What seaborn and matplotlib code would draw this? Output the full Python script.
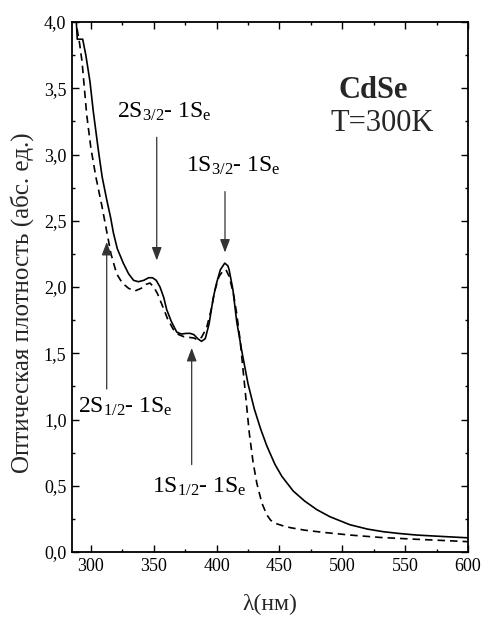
import matplotlib
matplotlib.use("Agg")
import matplotlib.pyplot as plt
from matplotlib.ticker import MultipleLocator, FuncFormatter
import seaborn as sns
import pandas as pd

# ---- data ----
wl_solid = [288.5, 289.2, 293.5, 296, 299.3, 302, 306, 309, 312.6, 315.8, 317.9, 321,
            325.8, 330, 334, 337.8, 342, 346, 349, 352, 355, 358, 360.3, 364, 368.3,
            372, 376, 379, 382, 385, 388, 391, 394, 397.4, 400, 403, 406.5, 409, 410,
            413, 416, 420, 425, 430, 435, 440, 446.5, 452, 461, 470, 479.7, 490, 506,
            520, 532.7, 545, 559, 580, 600]
abs_solid = [3.99, 3.87, 3.87, 3.75, 3.55, 3.32, 3.03, 2.83, 2.66, 2.52, 2.41, 2.29,
             2.18, 2.10, 2.05, 2.04, 2.05, 2.07, 2.07, 2.05, 2.00, 1.92, 1.83, 1.74, 1.66,
             1.645, 1.65, 1.65, 1.64, 1.61, 1.59, 1.61, 1.72, 1.92, 2.03, 2.13, 2.18, 2.16, 2.13,
             1.98, 1.74, 1.52, 1.27, 1.08, 0.93, 0.80, 0.66, 0.57, 0.46, 0.385, 0.32, 0.267, 0.206,
             0.173, 0.153, 0.14, 0.128, 0.117, 0.107]

wl_dash = [289, 291, 293, 296.7, 300, 304, 308.6, 312.6, 316, 320.5, 325, 330, 335, 340,
           344, 347, 350, 353, 357.7, 361, 365.6, 370, 374, 378, 382, 385, 388, 392,
           395.5, 398.8, 402, 405, 407.5, 410, 413.4, 416, 418.7, 422.7, 426, 429, 432,
           436, 440, 443, 446.5, 452, 458.5, 470, 485, 506, 530, 559, 580, 600]
abs_dash = [3.95, 3.84, 3.70, 3.30, 3.05, 2.83, 2.62, 2.42, 2.25, 2.10, 2.03, 1.99, 1.97, 1.99,
            2.02, 2.03, 2.00, 1.95, 1.84, 1.76, 1.68, 1.64, 1.625, 1.62, 1.615, 1.60, 1.62, 1.69,
            1.82, 1.98, 2.08, 2.12, 2.13, 2.08, 1.95, 1.80, 1.60, 1.22, 0.90, 0.68, 0.52,
            0.37, 0.28, 0.24, 0.217, 0.20, 0.184, 0.165, 0.148, 0.128, 0.11, 0.096, 0.087, 0.078]

# transitions: label, arrow x, arrow tail y, arrow head y, text x, text baseline y
trans_labels = [r"2S$_{3/2}$- 1S$_{\mathrm{e}}$", r"1S$_{3/2}$- 1S$_{\mathrm{e}}$",
                r"2S$_{1/2}$- 1S$_{\mathrm{e}}$", r"1S$_{1/2}$- 1S$_{\mathrm{e}}$"]
arrow_x = [352.4, 406.7, 312.6, 380.2]
arrow_tail = [3.13, 2.72, 1.23, 0.66]
arrow_head = [2.20, 2.26, 2.34, 1.54]
text_x = [320.8, 375.7, 289.8, 348.7]
text_y = [3.28, 2.87, 1.05, 0.445]

xticks = [300, 350, 400, 450, 500, 550, 600]
yticks = [0.0, 0.5, 1.0, 1.5, 2.0, 2.5, 3.0, 3.5, 4.0]

# ---- style ----
sns.set_style("ticks")
plt.rcParams['font.family'] = ['Liberation Serif', 'DejaVu Serif']
plt.rcParams['mathtext.fontset'] = 'custom'
plt.rcParams['mathtext.rm'] = 'Liberation Serif'
plt.rcParams['mathtext.it'] = 'Liberation Serif:italic'
plt.rcParams['mathtext.bf'] = 'Liberation Serif:bold'

fig = plt.figure(figsize=(4.84, 6.17), dpi=100)
ax = fig.add_axes([72/484, 1-552/617, (468-72)/484, (552-22)/617])

df_s = pd.DataFrame({"wl": wl_solid, "A": abs_solid})
df_d = pd.DataFrame({"wl": wl_dash, "A": abs_dash})
sns.lineplot(data=df_s, x="wl", y="A", ax=ax, color="black", lw=1.2, sort=False)
sns.lineplot(data=df_d, x="wl", y="A", ax=ax, color="black", lw=1.2, sort=False,
             linestyle=(0, (4.5, 3)))

ax.set_xlim(285, 600)
ax.set_ylim(0, 4.0)
ax.set_xticks(xticks)
ax.set_yticks(yticks)
ax.xaxis.set_minor_locator(MultipleLocator(25))
ax.yaxis.set_minor_locator(MultipleLocator(0.25))
ax.yaxis.set_major_formatter(FuncFormatter(lambda v, p: f"{v:.1f}".replace('.', ',')))
ax.tick_params(which='both', direction='in', top=True, right=True, width=1.0,
               labelsize=13, colors='black', pad=4)
ax.tick_params(which='major', length=5)
ax.tick_params(which='minor', length=2.5)
for s in ax.spines.values():
    s.set_linewidth(1.3)
    s.set_color('black')

ax.set_xlabel("λ(нм)", fontsize=17, labelpad=14)
ax.set_ylabel("Оптическая плотность (абс. ед.)", fontsize=18, labelpad=4)
ax.yaxis.set_label_coords(-0.095, 0.47)

for lab, ax_, t, h, tx, ty in zip(trans_labels, arrow_x, arrow_tail, arrow_head, text_x, text_y):
    ax.annotate("", xy=(ax_, h), xytext=(ax_, t),
                arrowprops=dict(arrowstyle='-|>,head_length=0.8,head_width=0.3',
                                color='#333333', lw=0.9, mutation_scale=10,
                                shrinkA=0, shrinkB=0))
    ax.text(tx, ty, lab, fontsize=17, ha='left', va='baseline', color='black')

ax.text(496.7, 3.43, "CdSe", fontsize=22, fontweight='bold', ha='left', va='baseline')
ax.text(491, 3.18, "T=300K", fontsize=22, ha='left', va='baseline')

fig.savefig("out.png", dpi=100)
